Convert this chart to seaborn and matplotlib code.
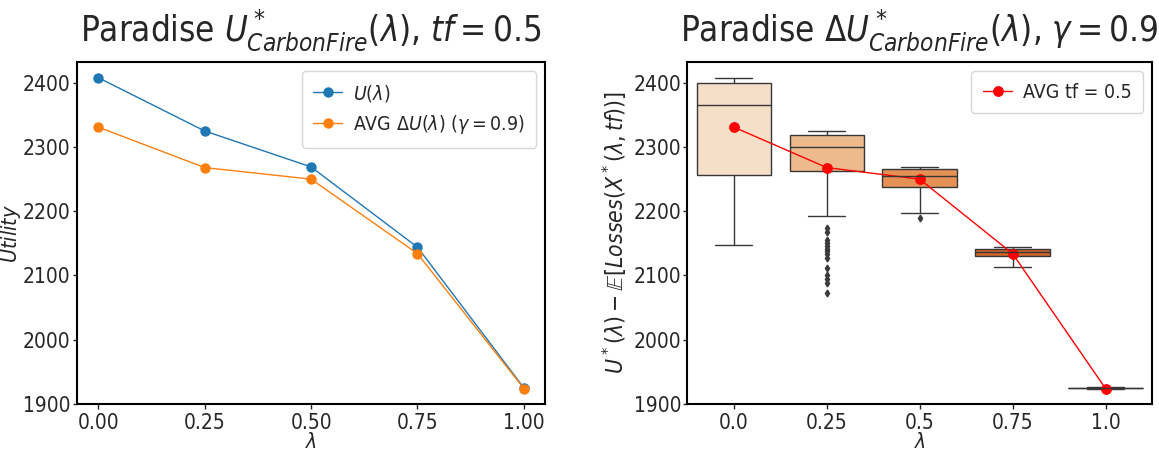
import dataclasses
import os
import numpy as np
import pandas as pd
import matplotlib
matplotlib.use("Agg")
import matplotlib.pyplot as plt
from matplotlib import font_manager
import seaborn as sns

# ---- data ----
lambdas = [0.0, 0.25, 0.5, 0.75, 1.0]
lambda_labels = ["0.0", "0.25", "0.5", "0.75", "1.0"]
utility = [2408, 2325, 2269, 2144, 1925]
avg_delta_utility = [2331, 2268, 2250, 2134, 1924]

# box statistics per lambda: lower whisker, Q1, median, Q3, upper whisker
whisker_low = [2147, 2192, 2198, 2113, 1924]
q1 = [2257, 2262, 2238, 2130, 1924.5]
median = [2366, 2300, 2255, 2137, 1925]
q3 = [2400, 2319, 2266, 2142, 1925.5]
whisker_high = [2408, 2325, 2269, 2144, 1926]
outliers = [
    [],
    [2174, 2168, 2155, 2151, 2146, 2142, 2138, 2133, 2127, 2111, 2101, 2094, 2088, 2072],
    [2189],
    [],
    [],
]


def sample_from_stats(lo, a, m, b, hi, extra):
    """Build a sample whose quartiles/whiskers reproduce the given statistics."""
    low = sorted([v for v in extra if v < a]) + [lo]
    high = [hi] + sorted([v for v in extra if v > b])
    k = max(len(low), len(high), 2)
    vals = low + [a] * (k - len(low))
    vals += [a] * k
    vals += [m] * k
    vals += [b] + [b] * (k - len(high)) + high
    return vals


rows = []
for i, lab in enumerate(lambda_labels):
    for v in sample_from_stats(whisker_low[i], q1[i], median[i], q3[i],
                               whisker_high[i], outliers[i]):
        rows.append({"lambda": lab, "value": v})
box_df = pd.DataFrame(rows)

line_df = pd.DataFrame({
    "lambda": lambdas * 2,
    "value": utility + avg_delta_utility,
    "series": [r"$U(\lambda)$"] * 5 + [r"AVG $\Delta U(\lambda)$ ($\gamma = 0.9$)"] * 5,
})
mean_df = pd.DataFrame({"lambda": lambda_labels, "value": avg_delta_utility})

# ---- fonts: a narrow sans for text and math ----
cond = [f for f in font_manager.fontManager.ttflist
        if os.path.basename(f.fname).startswith("DejaVuSansCondensed")]
if cond:
    FAMILY = "DejaVu Sans Cond"
    for f in cond:
        font_manager.fontManager.ttflist.append(
            dataclasses.replace(f, name=FAMILY, stretch="normal"))
else:
    FAMILY = "Roboto Condensed"

# ---- style ----
sns.set_style("ticks")
plt.rcParams["font.family"] = [FAMILY, "DejaVu Sans"]
plt.rcParams["mathtext.fontset"] = "custom"
plt.rcParams["mathtext.rm"] = FAMILY
plt.rcParams["mathtext.it"] = FAMILY + ":italic"
plt.rcParams["mathtext.bf"] = FAMILY + ":bold"
plt.rcParams["mathtext.sf"] = FAMILY
plt.rcParams["mathtext.fallback"] = "stixsans"
plt.rcParams["axes.linewidth"] = 1.5
plt.rcParams["axes.edgecolor"] = "black"

fig = plt.figure(figsize=(11.59, 4.5), dpi=100)
ax1 = fig.add_axes([0.0664, 0.102, 0.404, 0.76])
ax2 = fig.add_axes([0.593, 0.102, 0.401, 0.76])

legend_kw = dict(loc="upper right", fontsize=14, borderpad=0.6,
                 handlelength=1.5, handletextpad=0.55, borderaxespad=0.45)

# left: utility curves
sns.lineplot(data=line_df, x="lambda", y="value", hue="series",
             palette=["#1f77b4", "#ff7f0e"], marker="o", markersize=7.5,
             markeredgewidth=0, linewidth=1, ax=ax1)
ax1.set_xticks(lambdas)
ax1.set_xticklabels(["0.00", "0.25", "0.50", "0.75", "1.00"])
ax1.set_xlabel(r"$\lambda$", fontsize=15, labelpad=-1)
ax1.set_ylabel(r"$Utility$", fontsize=15.5, labelpad=0)
ax1.set_title(r"Paradise $U^*_{CarbonFire}(\lambda)$, $tf = 0.5$", fontsize=25, pad=15)
ax1.legend(title=None, **legend_kw)

# right: distribution of utility minus expected losses
sns.boxplot(data=box_df, x="lambda", y="value", hue="lambda", legend=False,
            palette="Oranges", saturation=0.75, width=0.8, linewidth=1,
            flierprops=dict(marker="d", markersize=3.5,
                            markerfacecolor="#3a3a3a", markeredgecolor="#3a3a3a"),
            ax=ax2)
sns.pointplot(data=mean_df, x="lambda", y="value", color="red",
              markers="o", markersize=7, linewidth=1, label="AVG tf = 0.5", ax=ax2)
ax2.set_xlabel(r"$\lambda$", fontsize=15, labelpad=-1)
ax2.set_ylabel(r"$U^*(\lambda) - \mathbb{E}[Losses(X^*(\lambda, tf))]$", fontsize=16.5, labelpad=3)
ax2.set_title(r"Paradise $\Delta U^*_{CarbonFire}(\lambda)$, $\gamma = 0.9$", fontsize=25, pad=15)
ax2.legend(**legend_kw)

for ax in (ax1, ax2):
    ax.tick_params(axis="x", labelsize=15, width=1, length=3.5, pad=3)
    ax.tick_params(axis="y", labelsize=15, width=1, length=3, pad=1.5)
    ax.set_yticks([1900, 2000, 2100, 2200, 2300, 2400])
    for s in ax.spines.values():
        s.set_visible(True)

fig.savefig("out.png", dpi=100)
